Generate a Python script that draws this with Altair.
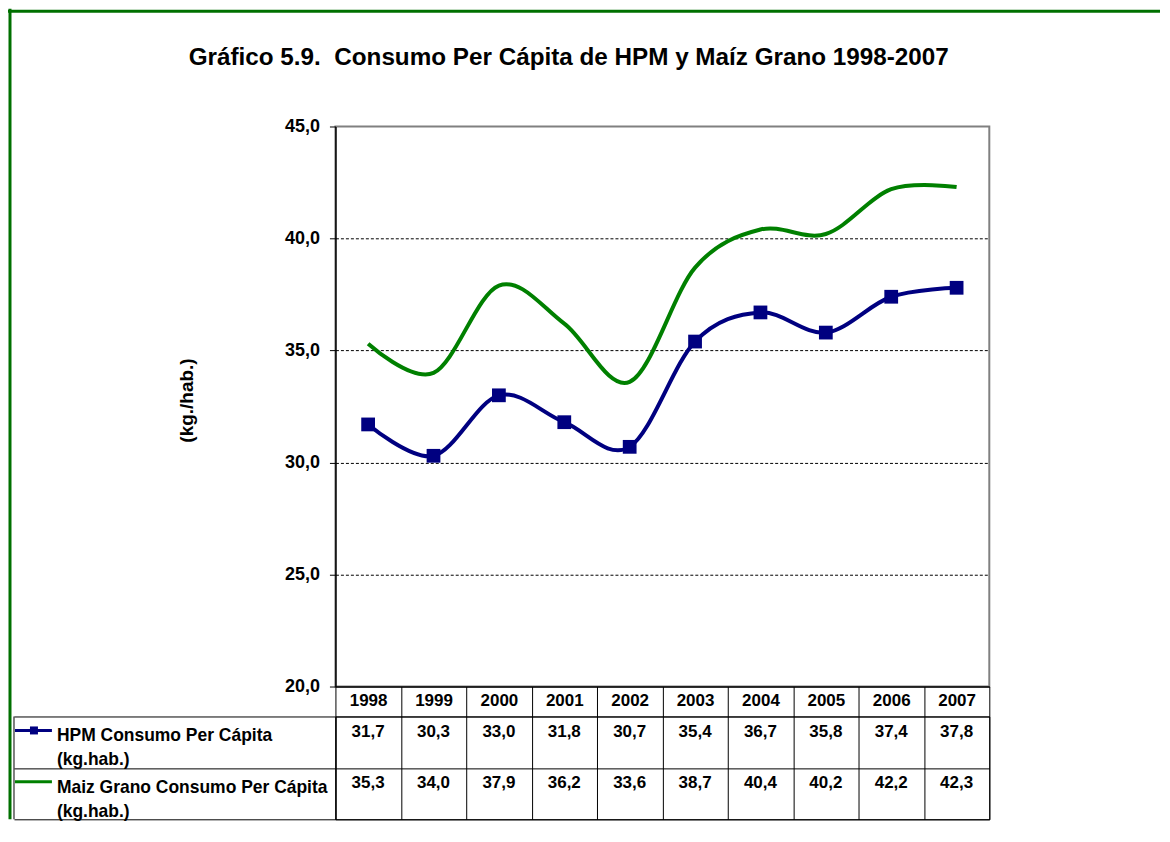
import altair as alt
import pandas as pd

# ---------------- data ----------------
years = ["1998", "1999", "2000", "2001", "2002", "2003", "2004", "2005", "2006", "2007"]
hpm = [31.7, 30.3, 33.0, 31.8, 30.7, 35.4, 36.7, 35.8, 37.4, 37.8]
maiz = [35.3, 34.0, 37.9, 36.2, 33.6, 38.7, 40.4, 40.2, 42.2, 42.3]
series_names = ["HPM Consumo Per Cápita (kg.hab.)", "Maiz Grano Consumo Per Cápita (kg.hab.)"]
row_labels = ["HPM Consumo Per Cápita\n(kg.hab.)", "Maiz Grano Consumo Per Cápita\n(kg.hab.)"]
series_colors = ["#000080", "#008000"]
y_ticks = [20, 25, 30, 35, 40, 45]
title_text = "Gráfico 5.9.\u00a0 Consumo Per Cápita de HPM y Maíz Grano 1998-2007"
y_title = "(kg./hab.)"

FONT = "Liberation Sans"

rows = []
for name, vals in zip(series_names, [hpm, maiz]):
    for yr, v in zip(years, vals):
        rows.append({"year": yr, "series": name, "value": v,
                     "label": f"{v:.1f}".replace(".", ",")})
df = pd.DataFrame(rows)
key_df = pd.DataFrame({"series": series_names, "text": row_labels})
one = pd.DataFrame({"a": [0]})

color_scale = alt.Scale(domain=series_names, range=series_colors)
xscale = alt.Scale(type="band", domain=years, paddingInner=0, paddingOuter=0)

# ---------------- top: line chart ----------------
x_top = alt.X("year:N", scale=xscale, axis=alt.Axis(
    title=None, orient="bottom", labelAngle=0, labelFont=FONT, labelFontSize=17,
    labelFontWeight="bold", labelColor="black", labelPadding=-24, labelBaseline="top",
    tickBand="extent", tickSize=30, tickColor="black", tickWidth=1,
    domainColor="black", domainWidth=1.5, grid=False))
y_top = alt.Y("value:Q", scale=alt.Scale(domain=[20, 45], nice=False, zero=False), axis=alt.Axis(
    values=y_ticks, labelExpr="replace(format(datum.value, '.1f'), '.', ',')",
    labelFont=FONT, labelFontSize=18, labelFontWeight="bold", labelColor="black", labelPadding=10,
    title=y_title, titleFont=FONT, titleFontSize=19, titleFontWeight="bold", titleColor="black",
    titleX=-149, titleY=274, titleBaseline="middle",
    grid=True, gridColor="black", gridDash=[3, 2], gridWidth=1,
    gridOpacity={"condition": {"test": "datum.value == 20 || datum.value == 45", "value": 0}, "value": 1},
    tickSize=6, tickColor="black", tickWidth=1, domainColor="black", domainWidth=1.5))
color_enc = alt.Color("series:N", scale=color_scale, legend=None)

base = alt.Chart(df)
lines = base.mark_line(interpolate="cardinal", tension=0, strokeWidth=4).encode(
    x=x_top, y=y_top, color=color_enc)
points = base.transform_filter(alt.datum.series == series_names[0]).mark_point(
    shape="square", filled=True, size=190, opacity=1).encode(x=x_top, y=y_top, color=color_enc)

top = alt.layer(lines, points).properties(
    width=655, height=561,
    title=alt.TitleParams(text=title_text, anchor="start", frame="group", dx=-147, offset=47,
                          font=FONT, fontSize=24.3, fontWeight="bold", color="black"),
    view=alt.ViewBackground(stroke="#808080", strokeWidth=2))

# ---------------- bottom: data table ----------------
x_tab = alt.X("year:N", scale=xscale, axis=alt.Axis(
    title=None, labels=False, ticks=False, domain=False, grid=True,
    gridColor="black", gridWidth=1, tickBand="extent"))
y_row = alt.Y("series:N", bandPosition=0,
              scale=alt.Scale(type="band", domain=series_names, paddingInner=0, paddingOuter=0),
              axis=alt.Axis(
                  title=None, orient="left", labels=False,
                  tickBand="extent", tickSize=322, tickColor="black", tickWidth=1,
                  domainColor="black", domainWidth=1, grid=True, gridColor="black", gridWidth=1))

vals = alt.Chart(df).mark_text(font=FONT, fontSize=17, fontWeight="bold", baseline="top",
                               align="center", color="black", dy=7.5).encode(
    x=x_tab, y=y_row, text="label:N")

row_text = alt.Chart(key_df).mark_text(font=FONT, fontSize=17.5, fontWeight="bold", baseline="top",
                                        align="left", color="black", dy=11, lineBreak="\n",
                                        lineHeight=24).encode(
    x=alt.value(-279), y=y_row, text="text:N")

keys = alt.Chart(key_df).mark_rule(strokeWidth=3, yOffset=14).encode(
    x=alt.value(-321), x2=alt.value(-284), y=y_row, color=color_enc)
key_sq = alt.Chart(key_df.iloc[[0]]).mark_point(shape="square", filled=True, size=64, opacity=1,
                                                 yOffset=14).encode(
    x=alt.value(-302), y=y_row, color=color_enc)

left_border = alt.Chart(one).mark_rule(color="black", strokeWidth=1).encode(
    x=alt.value(-322), y=alt.value(0), y2=alt.value(103))
frame_top = alt.Chart(one).mark_rule(color="#007000", strokeWidth=3).encode(
    x=alt.value(-328), x2=alt.value(826), y=alt.value(-706.5))
frame_left = alt.Chart(one).mark_rule(color="#007000", strokeWidth=3).encode(
    x=alt.value(-326), y=alt.value(-709), y2=alt.value(103))

table = alt.layer(vals, row_text, keys, key_sq, left_border, frame_top, frame_left).properties(
    width=655, height=103,
    view=alt.ViewBackground(stroke="black", strokeWidth=1))

chart = alt.vconcat(top, table, spacing=30, bounds="flush").properties(
    padding={"left": -2, "top": -2, "right": 0, "bottom": 0}
).configure(font=FONT).configure_view(fill="white")

chart.save("out.html", embed_options={"renderer": "svg", "actions": False})
